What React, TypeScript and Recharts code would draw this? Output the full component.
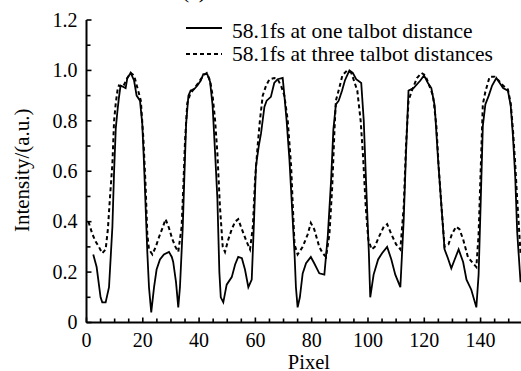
import React from 'react';
import { LineChart, Line, XAxis, YAxis, Legend } from 'recharts';

const seriesNames = ['58.1fs at one talbot distance', '58.1fs at three talbot distances'];

const oneX = [2.4, 3.6, 5.0, 5.6, 6.8, 8.0, 9.2, 9.8, 10.4, 11.0, 11.5, 12.1, 13.9, 14.5, 15.7, 16.9, 17.8, 19.0, 19.8, 20.4, 21.0, 21.6, 22.2, 23.0, 24.0, 24.9, 26.1, 27.5, 29.3, 30.3, 30.8, 31.8, 32.6, 33.2, 34.2, 34.8, 35.4, 36.2, 37.0, 38.2, 39.4, 40.6, 41.5, 42.9, 43.9, 44.8, 45.7, 46.5, 47.2, 47.7, 48.6, 49.8, 51.6, 52.8, 53.9, 55.2, 56.3, 57.5, 58.7, 59.5, 60.2, 61.2, 62.0, 63.2, 64.0, 65.5, 66.7, 67.9, 69.7, 70.3, 71.1, 72.1, 73.0, 73.9, 74.4, 75.0, 75.8, 76.8, 78.0, 79.7, 80.9, 82.7, 84.5, 85.7, 86.9, 87.7, 88.6, 89.6, 90.8, 91.8, 93.4, 94.6, 95.8, 97.6, 98.5, 99.3, 100.3, 100.8, 102.0, 103.6, 105.0, 106.8, 108.3, 109.7, 111.5, 112.7, 113.5, 114.4, 116.2, 118.6, 119.9, 121.3, 122.5, 123.7, 124.9, 126.1, 127.2, 128.4, 129.6, 130.8, 132.2, 133.8, 135.0, 136.7, 138.5, 139.3, 140.0, 140.8, 141.7, 142.9, 144.1, 145.6, 146.8, 148.0, 149.7, 150.7, 151.5, 152.3, 153.0, 154.2];
const oneY = [0.27, 0.22, 0.10, 0.08, 0.08, 0.14, 0.38, 0.60, 0.77, 0.84, 0.89, 0.94, 0.93, 0.97, 0.99, 0.96, 0.90, 0.88, 0.79, 0.64, 0.46, 0.28, 0.14, 0.04, 0.14, 0.21, 0.25, 0.27, 0.28, 0.26, 0.24, 0.16, 0.06, 0.14, 0.38, 0.59, 0.79, 0.90, 0.92, 0.925, 0.94, 0.96, 0.985, 0.985, 0.955, 0.86, 0.67, 0.49, 0.20, 0.10, 0.08, 0.15, 0.18, 0.23, 0.26, 0.255, 0.21, 0.14, 0.17, 0.40, 0.62, 0.70, 0.75, 0.855, 0.88, 0.895, 0.95, 0.965, 0.97, 0.90, 0.80, 0.645, 0.46, 0.275, 0.14, 0.06, 0.10, 0.195, 0.235, 0.26, 0.235, 0.195, 0.19, 0.34, 0.565, 0.765, 0.865, 0.88, 0.92, 0.96, 1.0, 0.99, 0.965, 0.95, 0.80, 0.56, 0.28, 0.10, 0.19, 0.25, 0.275, 0.30, 0.25, 0.19, 0.14, 0.41, 0.67, 0.92, 0.93, 0.96, 0.98, 0.95, 0.93, 0.86, 0.645, 0.46, 0.29, 0.255, 0.215, 0.25, 0.29, 0.24, 0.17, 0.13, 0.06, 0.19, 0.46, 0.78, 0.865, 0.90, 0.94, 0.97, 0.95, 0.93, 0.92, 0.86, 0.74, 0.58, 0.36, 0.16];

const threeX = [0.7, 2.1, 3.3, 4.4, 5.6, 6.8, 7.6, 8.3, 9.2, 9.8, 10.4, 11.0, 11.5, 13.0, 14.5, 15.7, 16.9, 18.1, 19.3, 20.2, 21.0, 21.6, 22.2, 23.4, 24.6, 25.8, 27.0, 28.1, 29.3, 30.5, 31.6, 32.6, 33.8, 34.4, 35.0, 35.8, 36.8, 38.0, 39.7, 41.5, 42.7, 43.9, 44.8, 45.7, 46.5, 47.4, 48.4, 49.2, 50.4, 51.6, 52.8, 53.9, 55.2, 56.9, 58.1, 59.1, 59.9, 60.8, 61.6, 62.6, 63.8, 65.0, 66.7, 67.9, 69.1, 70.3, 71.5, 72.7, 73.3, 73.9, 75.0, 76.8, 78.6, 79.7, 80.9, 82.7, 83.9, 85.1, 86.3, 87.3, 88.1, 88.6, 89.8, 90.9, 92.6, 94.1, 96.2, 97.4, 98.3, 99.2, 100.1, 101.3, 102.4, 103.9, 105.6, 106.8, 108.3, 110.0, 111.5, 112.7, 113.5, 114.4, 115.6, 117.4, 119.0, 120.4, 122.1, 123.1, 124.3, 125.1, 126.1, 127.2, 128.6, 129.8, 131.3, 132.5, 133.8, 135.5, 137.3, 138.5, 139.3, 140.0, 140.8, 141.7, 143.2, 145.0, 146.4, 148.0, 149.7, 150.7, 151.5, 152.3, 153.0, 154.2];
const threeY = [0.40, 0.35, 0.32, 0.30, 0.275, 0.29, 0.37, 0.49, 0.63, 0.80, 0.87, 0.92, 0.94, 0.935, 0.97, 0.99, 0.98, 0.93, 0.88, 0.73, 0.54, 0.35, 0.29, 0.27, 0.30, 0.34, 0.375, 0.41, 0.375, 0.33, 0.30, 0.28, 0.38, 0.54, 0.72, 0.87, 0.905, 0.925, 0.95, 0.98, 0.99, 0.96, 0.90, 0.80, 0.67, 0.46, 0.30, 0.28, 0.33, 0.37, 0.40, 0.41, 0.37, 0.32, 0.29, 0.38, 0.57, 0.70, 0.80, 0.90, 0.94, 0.965, 0.97, 0.965, 0.94, 0.90, 0.80, 0.62, 0.46, 0.31, 0.27, 0.30, 0.35, 0.395, 0.37, 0.30, 0.275, 0.26, 0.35, 0.54, 0.765, 0.88, 0.93, 0.98, 1.0, 0.99, 0.92, 0.80, 0.65, 0.46, 0.33, 0.29, 0.30, 0.34, 0.38, 0.39, 0.35, 0.31, 0.29, 0.46, 0.70, 0.88, 0.92, 0.97, 0.99, 0.98, 0.93, 0.90, 0.78, 0.62, 0.46, 0.30, 0.31, 0.35, 0.38, 0.37, 0.33, 0.26, 0.235, 0.22, 0.35, 0.59, 0.865, 0.915, 0.975, 0.975, 0.96, 0.94, 0.925, 0.87, 0.765, 0.63, 0.49, 0.275];

const xTicks = [0, 5, 10, 15, 20, 25, 30, 35, 40, 45, 50, 55, 60, 65, 70, 75, 80, 85, 90, 95, 100, 105, 110, 115, 120, 125, 130, 135, 140, 145, 150, 155];
const xTickLabels = [0, 20, 40, 60, 80, 100, 120, 140];
const yTicks = [0, 0.1, 0.2, 0.3, 0.4, 0.5, 0.6, 0.7, 0.8, 0.9, 1.0, 1.1, 1.2];
const yTickLabels = ['0', '0.2', '0.4', '0.6', '0.8', '1.0', '1.2'];

const oneData = oneX.map((x, i) => ({ x, y: oneY[i] }));
const threeData = threeX.map((x, i) => ({ x, y: threeY[i] }));

const FONT = '"Liberation Serif"';

const XTick = (props: any) => {
  const { x, y, payload } = props;
  const v = payload.value;
  const major = xTickLabels.includes(v);
  return (
    <g>
      <line x1={x} x2={x} y1={y} y2={y - (major ? 5 : 4)} stroke="#000" strokeWidth={1.6} />
      {major && (
        <text x={x} y={y + 24} textAnchor="middle" style={{ fontFamily: FONT, fontSize: 20 }} fill="#000">
          {v}
        </text>
      )}
    </g>
  );
};

const YTick = (props: any) => {
  const { x, y, payload, index } = props;
  const idx = yTicks.findIndex((t) => Math.abs(t - payload.value) < 1e-6);
  const i = idx >= 0 ? idx : index;
  const major = i % 2 === 0;
  return (
    <g>
      <line x1={x} x2={x + (major ? 5 : 4)} y1={y} y2={y} stroke="#000" strokeWidth={1.6} />
      {major && (
        <text x={x - 9} y={y + 6.8} textAnchor="end" style={{ fontFamily: FONT, fontSize: 20 }} fill="#000">
          {yTickLabels[i / 2]}
        </text>
      )}
    </g>
  );
};

const YLabel = (props: any) => {
  const vb = props.viewBox || { x: 0, y: 20, width: 86.5, height: 302.5 };
  const cx = vb.x + 21.7;
  const cy = vb.y + vb.height / 2 - 1;
  return (
    <text
      transform={`translate(${cx},${cy}) rotate(-90)`}
      textAnchor="middle"
      dominantBaseline="central"
      style={{ fontFamily: FONT, fontSize: 21 }}
      fill="#000"
    >
      Intensity/(a.u.)
    </text>
  );
};

const XLabel = (props: any) => {
  const vb = props.viewBox || { x: 86.5, y: 322.5, width: 436.3, height: 48.5 };
  return (
    <text x={vb.x + vb.width / 2 + 4.3} y={vb.y + 46} textAnchor="middle" style={{ fontFamily: FONT, fontSize: 20.5 }} fill="#000">
      Pixel
    </text>
  );
};

const LegendContent = () => (
  <div style={{ position: 'relative', width: 524, height: 80, fontFamily: FONT, fontSize: 21.5, lineHeight: '21.5px', color: '#000' }}>
    <span style={{ position: 'absolute', left: 182, top: -19, whiteSpace: 'nowrap' }}>(a)</span>
    <svg style={{ position: 'absolute', left: 186, top: 25 }} width={36} height={6}>
      <line x1={0} x2={36} y1={3} y2={3} stroke="#000" strokeWidth={2} />
    </svg>
    <span style={{ position: 'absolute', left: 232, top: 21, whiteSpace: 'nowrap' }}>{seriesNames[0]}</span>
    <svg style={{ position: 'absolute', left: 186, top: 51 }} width={36} height={6}>
      <line x1={0} x2={36} y1={3} y2={3} stroke="#000" strokeWidth={2} strokeDasharray="4 3" />
    </svg>
    <span style={{ position: 'absolute', left: 232, top: 44, whiteSpace: 'nowrap' }}>{seriesNames[1]}</span>
  </div>
);

export default function App() {
  return (
    <div style={{ position: 'absolute', left: 0, top: 0, width: 521, height: 371, overflow: 'hidden', background: '#fff', fontFamily: FONT }}>
      <LineChart width={524} height={371} margin={{ top: 20, right: 1.2, bottom: 0, left: 0 }}>
        <XAxis
          dataKey="x"
          type="number"
          domain={[0, 155]}
          ticks={xTicks}
          interval={0}
          allowDataOverflow
          height={48.5}
          tickSize={0}
          tickMargin={0}
          tickLine={false}
          axisLine={{ stroke: '#000', strokeWidth: 2 }}
          tick={<XTick />}
          label={<XLabel />}
        />
        <XAxis
          xAxisId="top"
          orientation="top"
          type="number"
          domain={[0, 155]}
          height={0}
          tick={false}
          tickLine={false}
          axisLine={{ stroke: '#000', strokeWidth: 1.3 }}
        />
        <YAxis
          type="number"
          domain={[0, 1.2]}
          ticks={yTicks}
          interval={0}
          allowDataOverflow
          width={86.5}
          tickSize={0}
          tickMargin={0}
          tickLine={false}
          axisLine={{ stroke: '#000', strokeWidth: 2 }}
          tick={<YTick />}
          label={<YLabel />}
        />
        <Legend
          verticalAlign="middle"
          align="center"
          layout="horizontal"
          wrapperStyle={{ position: 'absolute', left: 0, top: 0, width: 524, height: 80 }}
          content={<LegendContent />}
        />
        <Line
          data={oneData}
          dataKey="y"
          name={seriesNames[0]}
          type="linear"
          stroke="#000"
          strokeWidth={1.8}
          dot={false}
          activeDot={false}
          isAnimationActive={false}
        />
        <Line
          data={threeData}
          dataKey="y"
          name={seriesNames[1]}
          type="linear"
          stroke="#000"
          strokeWidth={2}
          strokeDasharray="4 3"
          dot={false}
          activeDot={false}
          isAnimationActive={false}
        />
      </LineChart>
    </div>
  );
}
